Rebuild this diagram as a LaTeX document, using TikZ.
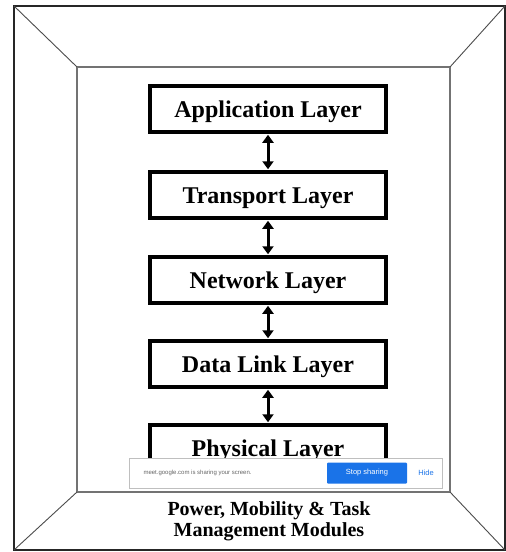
\documentclass[tikz,border=0pt]{standalone}
\usepackage{fontspec}
\setmainfont{Liberation Serif}
\newfontfamily\uifont{Liberation Sans}
\usetikzlibrary{arrows.meta}
\definecolor{gblue}{HTML}{1A73E8}
\begin{document}
\begin{tikzpicture}[x=1pt,y=-1pt,
  layerbox/.style={draw=black,line width=3.5pt,fill=white,minimum width=236pt,minimum height=46pt,
    inner sep=0pt,text height=16pt,text depth=0pt,font=\fontsize{24}{26}\selectfont\bfseries},
  biarrow/.style={line width=3pt,{Triangle[width=11pt,length=8pt]}-{Triangle[width=11pt,length=8pt]},shorten <=1pt,shorten >=1pt},
  frameline/.style={draw=black!85,line width=1.6pt},
  diag/.style={draw=black!70,line width=0.9pt},
  innerline/.style={draw=black!55,line width=1.4pt}]
\useasboundingbox (0,0) rectangle (506,552);
\fill[white] (0,0) rectangle (506,552);
% frame
\coordinate (o1) at (14,6); \coordinate (o2) at (505,6);
\coordinate (o3) at (505,550); \coordinate (o4) at (14,550);
\coordinate (i1) at (77,67); \coordinate (i2) at (450,67);
\coordinate (i3) at (450,492); \coordinate (i4) at (77,492);
\draw[frameline] (o1) -- (o2) -- (o3) -- (o4) -- cycle;
\draw[innerline] (i1) -- (i2) -- (i3) -- (i4) -- cycle;
\draw[diag] (o1) -- (i1);
\draw[diag] (o2) -- (i2);
\draw[diag] (o3) -- (i3);
\draw[diag] (o4) -- (i4);
% layers
\node[layerbox] (app) at (268,109) {Application Layer};
\node[layerbox] (tra) at (268,195) {Transport Layer};
\node[layerbox] (net) at (268,280) {Network Layer};
\node[layerbox] (dl)  at (268,364) {Data Link Layer};
\node[layerbox] (phy) at (268,448) {Physical Layer};
\draw[biarrow] (app.south) -- (tra.north);
\draw[biarrow] (tra.south) -- (net.north);
\draw[biarrow] (net.south) -- (dl.north);
\draw[biarrow] (dl.south) -- (phy.north);
% screen-sharing banner
\node[draw=black!25,line width=0.8pt,fill=white,minimum width=313pt,minimum height=30pt,inner sep=0pt] (banner) at (286,473) {};
\node[font=\uifont\fontsize{6}{7}\selectfont,text=black!60,anchor=west] (bantext) at (140,473) {meet.google.com is sharing your screen.};
\node[fill=gblue,text=white,font=\uifont\fontsize{7.5}{9}\selectfont,minimum width=80pt,minimum height=21pt,inner sep=0pt,rounded corners=1pt] (stop) at (367,473) {Stop sharing};
\node[text=gblue,font=\uifont\fontsize{7.5}{9}\selectfont] (hide) at (426,473) {Hide};
% modules
\node[font=\fontsize{20}{21}\selectfont\bfseries,align=center,anchor=north,inner sep=0pt] (mods) at (269,501) {Power, Mobility \& Task\\Management Modules};
\end{tikzpicture}
\end{document}
